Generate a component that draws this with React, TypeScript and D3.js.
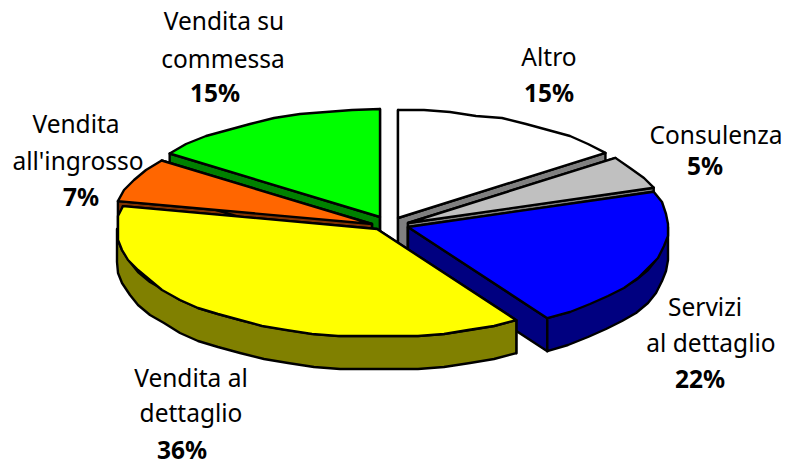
import React from "react";
import * as d3 from "d3";

const categories = ["Altro", "Consulenza", "Servizi al dettaglio", "Vendita al dettaglio", "Vendita all'ingrosso", "Vendita su commessa"];
const shares = [14.7, 5, 21.3, 37.4, 6.6, 15];
const topColors = ["#ffffff", "#c0c0c0", "#0000ff", "#ffff00", "#ff6600", "#00ff00"];
const wallColors = ["#808080", "#808080", "#000080", "#808000", "#803300", "#008000"];
const drawOrder = ["Vendita su commessa", "Altro", "Consulenza", "Vendita all'ingrosso", "Servizi al dettaglio", "Vendita al dettaglio"];

const labelTexts = ["Altro", "15%", "Consulenza", "5%", "Servizi", "al dettaglio", "22%", "Vendita al", "dettaglio", "36%", "Vendita", "all'ingrosso", "7%", "Vendita su", "commessa", "15%"];
const labelX = [549, 549, 716, 705, 705, 711, 700, 191, 191, 182, 76, 78, 81, 224, 223, 215];
const labelY = [66, 102, 144, 175, 316, 352, 388, 387, 422, 459, 133, 170, 206, 30, 68, 102];

const RX = 260, RY = 108, DEPTH = 33;
const offsets: Record<string, [number, number]> = {
  "Altro": [398, 218],
  "Consulenza": [408, 223],
  "Servizi al dettaglio": [408, 227],
  "Vendita al dettaglio": [377, 229],
  "Vendita all'ingrosso": [372, 224],
  "Vendita su commessa": [380, 217],
};

const pie = d3.pie<number>().sort(null).startAngle(0).endAngle(2 * Math.PI);
const arcs = pie(shares);

function pt(c: [number, number], a: number, dy = 0): [number, number] {
  return [c[0] + RX * Math.sin(a), c[1] - RY * Math.cos(a) + dy];
}
const snap = (v: number) => Math.round(v / 2) * 2;
function arcPts(c: [number, number], a0: number, a1: number, dy = 0) {
  const step = (6 * Math.PI) / 180;
  const n = Math.max(2, Math.ceil((a1 - a0) / step));
  return d3.range(n + 1).map((i) => {
    const p = pt(c, a0 + ((a1 - a0) * i) / n);
    return (i === 0 || i === n ? [p[0], p[1] + dy] : [snap(p[0]), snap(p[1]) + dy]) as [number, number];
  });
}
const line = d3.line();

export default function App() {
  return (
    <svg width={786} height={461} style={{ position: "absolute", left: 0, top: 0, background: "#fff" }} fontFamily="'Noto Sans'" fontSize={24.5}>
      {drawOrder.map((name) => {
        const i = categories.indexOf(name);
        const arc = arcs[i];
        const c = offsets[name];
        const a0 = arc.startAngle, a1 = arc.endAngle;
        const outer = arcPts(c, a0, a1);
        const top = [c, ...outer] as [number, number][];
        const walls: [number, number][][] = [];
        const radial = (a: number) => {
          const p = pt(c, a);
          walls.push([c, p, [p[0], p[1] + DEPTH], [c[0], c[1] + DEPTH]]);
        };
        radial(a0);
        radial(a1);
        const lo = Math.max(a0, Math.PI / 2), hi = Math.min(a1, (3 * Math.PI) / 2);
        if (hi > lo) {
          walls.push([...arcPts(c, lo, hi), ...arcPts(c, lo, hi, DEPTH).reverse()]);
        }
        return (
          <g key={name} stroke="#000" strokeWidth={2.4} strokeLinejoin="round">
            {walls.map((w, k) => (
              <path key={k} d={line(w) + "Z"} fill={wallColors[i]} />
            ))}
            <path d={line(top) + "Z"} fill={topColors[i]} />
          </g>
        );
      })}
      {labelTexts.map((t, k) => (
        <text key={k} x={labelX[k]} y={labelY[k]} textAnchor="middle" fill="#000" fontWeight={t.endsWith("%") ? "bold" : "normal"}>
          {t}
        </text>
      ))}
    </svg>
  );
}
